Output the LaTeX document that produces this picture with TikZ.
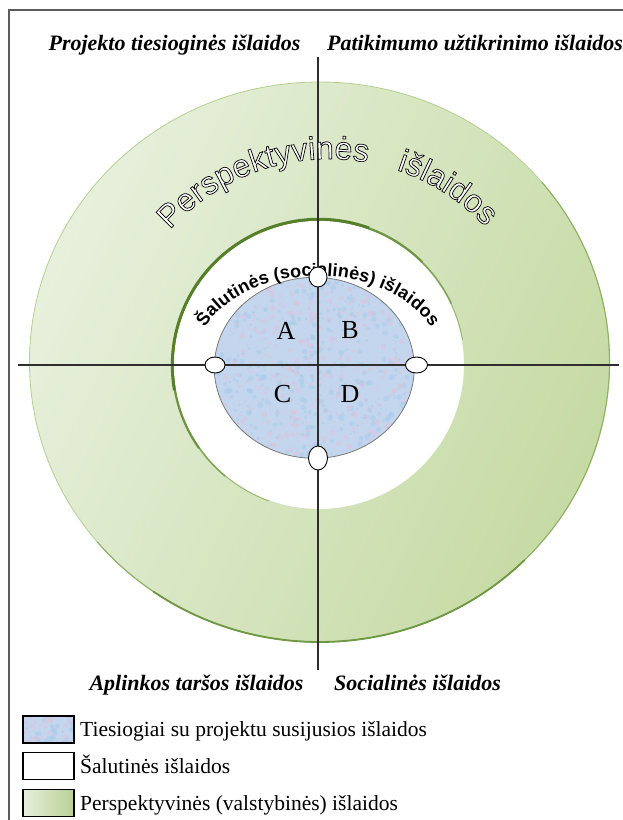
\documentclass[tikz,border=0pt]{standalone}
\usepackage{fontspec}
\setmainfont{Liberation Serif}
\newfontfamily\arialfont{Liberation Sans}
\usetikzlibrary{decorations.text,shadings}

% colours
\definecolor{framegray}{HTML}{5C5C5C}
\definecolor{axisgray}{HTML}{2E2E2E}
\definecolor{ringlight}{HTML}{E7F0DC}
\definecolor{ringdark}{HTML}{C6DAA4}
\definecolor{ringedge}{HTML}{B5CF92}
\definecolor{ringdeep}{HTML}{6F9842}
\definecolor{ringshadow}{HTML}{557F2A}
\definecolor{bluebase}{HTML}{C3D6EE}
\definecolor{blobpink}{HTML}{DCC4DF}
\definecolor{blobblue}{HTML}{A7CBE8}
\definecolor{ovalgray}{HTML}{7A7A7A}

% hollow (outlined) glyphs through the PDF text rendering mode
\newcommand\hollowglyphs{\special{pdf:literal direct 2 Tr 0.7 w 1 g 0 G}}
\newcommand\solidglyphs{\special{pdf:literal direct 0 Tr 0 g 0 G}}

\tikzset{
  axisline/.style={draw=axisgray, line width=1.3pt},
  quadtitle/.style={font=\bfseries\itshape\fontsize{22}{26}\selectfont, anchor=base, inner sep=0pt},
  quadletter/.style={font=\fontsize{26}{30}\selectfont, inner sep=0pt},
  joint/.style={draw=black, fill=white, line width=0.9pt},
  legendbox/.style={draw=black, line width=1.8pt, minimum width=51pt, minimum height=27pt, inner sep=0pt, anchor=west},
  legendtext/.style={font=\fontsize{21.5}{24}\selectfont, anchor=base west, inner sep=0pt},
}

% mottled blue fill, drawn inside a clip that is already set
\newcommand\mottle[4]{% centre x, centre y, half size, number of specks
  \fill[bluebase] (#1-#3,#2-#3) rectangle (#1+#3,#2+#3);
  \pgfmathsetseed{#3}
  \foreach \k in {1,...,#4}{
    \pgfmathsetmacro\px{#1+rand*#3}
    \pgfmathsetmacro\py{#2+rand*#3}
    \pgfmathsetmacro\pr{0.8+2.2*rnd}
    \fill[blobpink, opacity=.55] (\px,\py) circle (\pr);
    \pgfmathsetmacro\qx{#1+rand*#3}
    \pgfmathsetmacro\qy{#2+rand*#3}
    \pgfmathsetmacro\qr{0.8+2.2*rnd}
    \fill[blobblue, opacity=.5] (\qx,\qy) circle (\qr);
  }
}

\begin{document}
\begin{tikzpicture}[x=1pt, y=1pt]
\useasboundingbox (0,0) rectangle (623,-820);
\fill[white] (0,0) rectangle (623,-820);

% page frame (top and left edges)
\draw[framegray, line width=1.5pt] (9,-820) -- (9,-10) -- (623,-10);

% centres
\coordinate (G) at (319.5,-362);   % green ring
\coordinate (W) at (319,-365);     % white ring
\coordinate (B) at (314.3,-367.8); % blue core
\coordinate (C) at (318,-365);     % axes crossing
\coordinate (P) at (329,-373);     % centre of the hollow label's arc

% green ring with a soft gradient
\shade[even odd rule, left color=ringlight, right color=ringdark, shading angle=65]
  (G) ellipse [x radius=290, y radius=280]
  (W) ellipse [x radius=145, y radius=144];
\draw[ringedge, line width=0.8pt] (G) ellipse [x radius=290, y radius=280];
\draw[ringdeep!55!ringedge, line width=1.1pt]
  (G) ++(40:290 and 280) arc[start angle=40, end angle=-140, x radius=290, y radius=280];
\draw[ringdeep, line width=1.8pt]
  (G) ++(-45:290 and 280) arc[start angle=-45, end angle=-125, x radius=290, y radius=280];
% shadow along the inner edge of the ring, strongest at the upper left
\foreach \a/\b/\w/\m in {10/250/0.8/35, 25/230/1.4/55, 45/215/2.0/75, 70/190/2.8/100}{
  \draw[ringshadow!\m!ringedge, line width=\w pt]
    (W) ++(\a:145.4+\w/2 and 144.4+\w/2)
    arc[start angle=\a, end angle=\b, x radius=145.4+\w/2, y radius=144.4+\w/2];
}

% blue core
\begin{scope}
  \clip (B) ellipse [x radius=100, y radius=90.5];
  \mottle{314.3}{-367.8}{101}{520}
\end{scope}
\draw[ovalgray, line width=0.8pt] (B) ellipse [x radius=100, y radius=90.5];

% axes
\coordinate (axL) at (18,-365);
\coordinate (axR) at (619,-365);
\coordinate (axT) at (318,-57);
\coordinate (axB) at (318,-670);
\draw[axisline] (axL) -- (axR);
\draw[axisline] (axT) -- (axB);

% quadrant letters
\node[quadletter] (qa) at (286,-330.5) {A};
\node[quadletter] (qb) at (350,-330.5) {B};
\node[quadletter] (qc) at (282.5,-394) {C};
\node[quadletter] (qd) at (350,-394) {D};

% curved label of the white ring
\path[decorate, decoration={text along path, text align={fit to path},
  text={|\arialfont\bfseries\fontsize{18}{21}\selectfont|Šalutinės (socialinės) išlaidos}}]
  (C) ++(155:125 and 89) arc[start angle=155, end angle=25, x radius=125, y radius=89];

% joints where the axes cross the core
\path[joint] (318,-277) ellipse [x radius=9, y radius=10];
\path[joint] (215,-365) ellipse [x radius=10, y radius=8];
\path[joint] (416.5,-365) ellipse [x radius=11, y radius=8];
\path[joint] (318,-458) ellipse [x radius=9.5, y radius=12];

% hollow curved label of the green ring
\path[decorate, decoration={text along path, text align={fit to path},
  text={|\arialfont\fontsize{32}{36}\selectfont\hollowglyphs|Perspektyvinės}}]
  (P) ++(138:214) arc[start angle=138, end angle=79.6, radius=214];
\path[decorate, decoration={text along path, text align={fit to path},
  text={|\arialfont\fontsize{32}{36}\selectfont\hollowglyphs|išlaidos}}]
  (P) ++(71.6:214) arc[start angle=71.6, end angle=44.1, radius=214];
\solidglyphs

% quadrant titles
\node[quadtitle] (tl) at (174.5,-50) {Projekto tiesioginės išlaidos};
\node[quadtitle] (tr) at (475,-50) {Patikimumo užtikrinimo išlaidos};
\node[quadtitle] (bl) at (196.5,-690) {Aplinkos taršos išlaidos};
\node[quadtitle] (br) at (417.5,-690) {Socialinės išlaidos};

% legend
\begin{scope}
  \clip (22,-716) rectangle (73,-743);
  \mottle{47.5}{-729.5}{27}{70}
\end{scope}
\node[legendbox] (lb1) at (22,-729.5) {};
\node[legendbox, fill=white] (lb2) at (22,-766) {};
\node[legendbox, left color=ringlight, right color=ringdark!85!ringdeep] (lb3) at (22,-803) {};
\node[legendtext] (lt1) at (80,-736.5) {Tiesiogiai su projektu susijusios išlaidos};
\node[legendtext] (lt2) at (80,-773) {Šalutinės išlaidos};
\node[legendtext] (lt3) at (80,-810) {Perspektyvinės (valstybinės) išlaidos};
\end{tikzpicture}
\end{document}
